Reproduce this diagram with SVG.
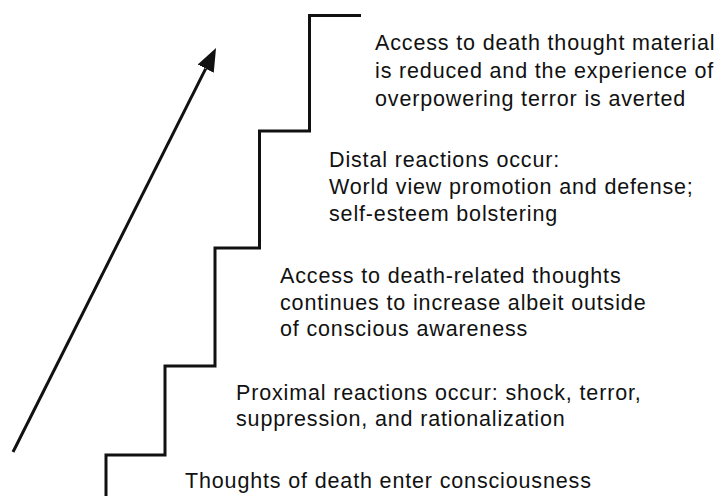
<svg xmlns="http://www.w3.org/2000/svg" width="720" height="496" viewBox="0 0 720 496">
<style>
  .t { font-family: "Liberation Sans", Arial, Helvetica, sans-serif; font-size: 21.5px; fill: #111; letter-spacing: 0.85px; }
  .ln { fill: none; stroke: #111; stroke-width: 3; }
</style>
<defs>
  <marker id="ah" markerUnits="userSpaceOnUse" viewBox="0 -9 23 18" markerWidth="23" markerHeight="18" refX="0" refY="0" orient="auto">
    <path d="M0,-9 L23,0 L0,9 z" fill="#111"/>
  </marker>
</defs>
<rect width="720" height="496" fill="#fff"/>
<g id="connectors">
  <path id="stairs" class="ln" d="M106,496 V455 H165 V366 H215 V248 H259.5 V131 H309.5 V15.5 H361" stroke-linejoin="miter"/>
  <line id="arrow" class="ln" x1="13" y1="452" x2="205.7" y2="68.6" marker-end="url(#ah)"/>
</g>
<g id="step5">
  <text class="t" x="375" y="49.5">Access to death thought material</text>
  <text class="t" x="375" y="77.5">is reduced and the experience of</text>
  <text class="t" x="375" y="105.5">overpowering terror is averted</text>
</g>
<g id="step4">
  <text class="t" x="329" y="166.5">Distal reactions occur:</text>
  <text class="t" x="329" y="193.5">World view promotion and defense;</text>
  <text class="t" x="329" y="220.5">self-esteem bolstering</text>
</g>
<g id="step3">
  <text class="t" x="280" y="283">Access to death-related thoughts</text>
  <text class="t" x="280" y="310">continues to increase albeit outside</text>
  <text class="t" x="280" y="336">of conscious awareness</text>
</g>
<g id="step2">
  <text class="t" x="236" y="400">Proximal reactions occur: shock, terror,</text>
  <text class="t" x="236" y="426">suppression, and rationalization</text>
</g>
<g id="step1">
  <text class="t" x="185" y="488">Thoughts of death enter consciousness</text>
</g>
</svg>
